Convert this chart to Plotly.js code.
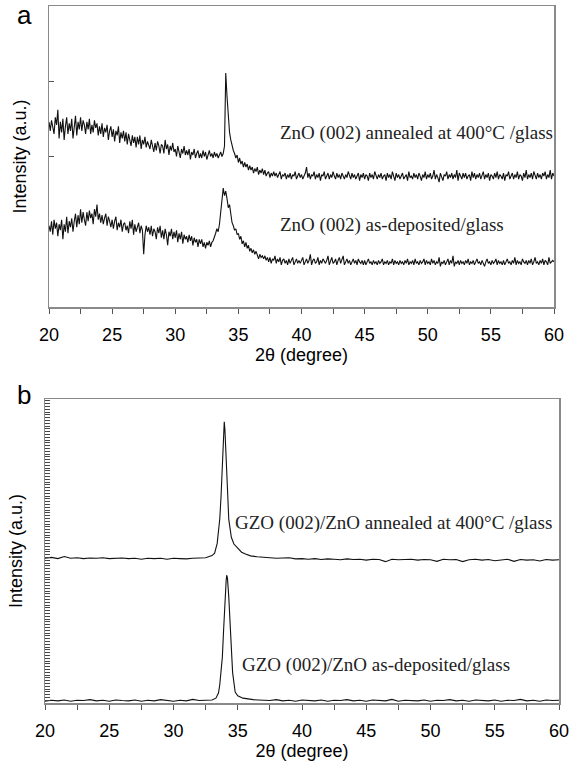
<!DOCTYPE html>
<html><head><meta charset="utf-8">
<script src="https://cdn.plot.ly/plotly-3.0.1.min.js"></script>
<style>html,body{margin:0;padding:0;background:#fff}</style>
</head><body><div id="chart" style="width:573px;height:769px"></div>
<script>
// ---------- Panel a : ZnO on glass (2theta grid, 0.1 degree) ----------
const twoThetaA = [
20.0,20.1,20.2,20.3,20.4,20.5,20.6,20.7,20.8,20.9,
21.0,21.1,21.2,21.3,21.4,21.5,21.6,21.7,21.8,21.9,
22.0,22.1,22.2,22.3,22.4,22.5,22.6,22.7,22.8,22.9,
23.0,23.1,23.2,23.3,23.4,23.5,23.6,23.7,23.8,23.9,
24.0,24.1,24.2,24.3,24.4,24.5,24.6,24.7,24.8,24.9,
25.0,25.1,25.2,25.3,25.4,25.5,25.6,25.7,25.8,25.9,
26.0,26.1,26.2,26.3,26.4,26.5,26.6,26.7,26.8,26.9,
27.0,27.1,27.2,27.3,27.4,27.5,27.6,27.7,27.8,27.9,
28.0,28.1,28.2,28.3,28.4,28.5,28.6,28.7,28.8,28.9,
29.0,29.1,29.2,29.3,29.4,29.5,29.6,29.7,29.8,29.9,
30.0,30.1,30.2,30.3,30.4,30.5,30.6,30.7,30.8,30.9,
31.0,31.1,31.2,31.3,31.4,31.5,31.6,31.7,31.8,31.9,
32.0,32.1,32.2,32.3,32.4,32.5,32.6,32.7,32.8,32.9,
33.0,33.1,33.2,33.3,33.4,33.5,33.6,33.7,33.8,33.9,
34.0,34.1,34.2,34.3,34.4,34.5,34.6,34.7,34.8,34.9,
35.0,35.1,35.2,35.3,35.4,35.5,35.6,35.7,35.8,35.9,
36.0,36.1,36.2,36.3,36.4,36.5,36.6,36.7,36.8,36.9,
37.0,37.1,37.2,37.3,37.4,37.5,37.6,37.7,37.8,37.9,
38.0,38.1,38.2,38.3,38.4,38.5,38.6,38.7,38.8,38.9,
39.0,39.1,39.2,39.3,39.4,39.5,39.6,39.7,39.8,39.9,
40.0,40.1,40.2,40.3,40.4,40.5,40.6,40.7,40.8,40.9,
41.0,41.1,41.2,41.3,41.4,41.5,41.6,41.7,41.8,41.9,
42.0,42.1,42.2,42.3,42.4,42.5,42.6,42.7,42.8,42.9,
43.0,43.1,43.2,43.3,43.4,43.5,43.6,43.7,43.8,43.9,
44.0,44.1,44.2,44.3,44.4,44.5,44.6,44.7,44.8,44.9,
45.0,45.1,45.2,45.3,45.4,45.5,45.6,45.7,45.8,45.9,
46.0,46.1,46.2,46.3,46.4,46.5,46.6,46.7,46.8,46.9,
47.0,47.1,47.2,47.3,47.4,47.5,47.6,47.7,47.8,47.9,
48.0,48.1,48.2,48.3,48.4,48.5,48.6,48.7,48.8,48.9,
49.0,49.1,49.2,49.3,49.4,49.5,49.6,49.7,49.8,49.9,
50.0,50.1,50.2,50.3,50.4,50.5,50.6,50.7,50.8,50.9,
51.0,51.1,51.2,51.3,51.4,51.5,51.6,51.7,51.8,51.9,
52.0,52.1,52.2,52.3,52.4,52.5,52.6,52.7,52.8,52.9,
53.0,53.1,53.2,53.3,53.4,53.5,53.6,53.7,53.8,53.9,
54.0,54.1,54.2,54.3,54.4,54.5,54.6,54.7,54.8,54.9,
55.0,55.1,55.2,55.3,55.4,55.5,55.6,55.7,55.8,55.9,
56.0,56.1,56.2,56.3,56.4,56.5,56.6,56.7,56.8,56.9,
57.0,57.1,57.2,57.3,57.4,57.5,57.6,57.7,57.8,57.9,
58.0,58.1,58.2,58.3,58.4,58.5,58.6,58.7,58.8,58.9,
59.0,59.1,59.2,59.3,59.4,59.5,59.6,59.7,59.8,59.9,
60.0];

const znoAnnealed = [
61.5,58.5,62.0,59.0,57.5,63.0,60.5,65.5,56.0,61.5,
58.0,62.5,55.5,60.0,63.0,57.5,61.0,58.5,62.5,56.0,
60.5,63.5,57.0,61.5,59.0,63.0,58.5,62.0,60.5,57.5,
61.5,59.0,62.5,57.5,60.5,58.0,62.0,59.5,61.0,57.0,
60.0,57.5,61.0,56.5,59.5,58.0,60.5,55.5,58.5,60.0,
56.5,59.0,55.0,58.5,57.0,60.0,54.5,58.0,56.0,58.5,
55.0,58.0,54.0,57.5,55.5,53.5,57.0,54.5,56.5,53.0,
56.5,54.0,57.0,52.5,55.5,54.0,56.5,53.0,55.0,54.0,
52.5,55.5,53.0,51.5,54.5,52.0,55.0,53.5,51.0,54.0,
53.5,51.0,55.5,52.5,54.0,50.5,53.5,52.0,54.5,51.5,
52.5,50.0,53.5,51.5,49.5,52.5,51.0,53.5,50.5,52.0,
50.5,52.5,49.0,51.5,50.5,52.5,49.5,51.0,52.0,49.5,
51.0,49.5,52.0,50.0,51.5,49.0,50.5,52.0,50.0,51.0,
49.5,51.5,50.0,51.0,49.5,50.5,51.5,50.0,51.0,53.5,
77.7,70.0,62.5,58.0,55.5,53.5,52.0,51.0,49.5,50.5,
48.0,49.5,47.5,48.5,46.5,48.0,46.5,47.5,45.5,47.0,
45.5,46.5,44.5,46.0,45.0,46.5,44.0,45.5,44.5,46.0,
44.0,45.5,43.5,44.5,45.0,43.0,44.5,43.5,45.0,43.5,
44.5,43.0,44.0,45.0,42.5,44.0,43.5,44.5,42.5,44.0,
43.0,44.5,42.5,44.0,43.5,45.0,42.5,43.5,44.5,43.0,
44.0,42.5,43.5,44.5,46.5,43.0,44.5,42.5,44.0,43.5,
45.0,42.5,44.0,43.0,44.5,42.0,44.0,43.5,45.0,42.5,
43.5,44.5,42.5,44.0,43.0,45.0,43.5,42.5,44.5,43.0,
44.0,42.5,44.5,43.5,42.5,44.0,43.0,45.0,43.5,42.5,
44.5,43.0,44.0,42.5,43.5,44.5,42.0,44.0,43.0,44.5,
42.5,44.0,43.5,42.0,44.5,43.0,44.0,42.5,45.0,43.5,
42.5,44.0,43.0,44.5,42.5,43.5,44.0,42.0,44.5,43.0,
44.0,42.5,45.0,43.5,42.0,44.5,43.0,44.0,42.5,43.5,
44.5,42.5,43.5,44.0,42.0,45.0,43.0,43.5,42.5,44.5,
43.0,44.0,42.5,44.5,43.5,42.0,44.0,43.0,45.0,42.5,
44.0,43.0,44.5,42.5,43.5,45.5,42.5,44.0,43.0,41.5,
44.5,43.0,42.0,44.0,43.5,45.0,42.5,44.0,43.0,44.5,
42.5,44.0,43.0,45.5,42.0,44.5,43.5,42.5,44.5,43.0,
44.5,42.5,43.5,44.0,42.0,45.0,43.0,44.5,42.5,44.0,
43.0,44.5,42.5,43.5,45.0,42.5,44.0,43.0,44.5,42.0,
44.0,43.5,42.5,44.5,43.0,45.0,42.5,44.0,43.5,42.5,
44.5,42.0,44.0,43.5,45.0,42.5,43.5,44.5,42.5,44.0,
43.0,45.0,42.5,44.0,43.5,42.0,44.5,43.0,45.5,42.5,
44.0,43.0,44.5,42.5,45.0,43.5,42.5,44.5,43.0,44.0,
42.5,44.5,43.5,45.0,42.5,44.0,43.0,45.5,42.5,44.5,
43.5];

const znoAsDeposited = [
27.0,25.0,28.5,24.0,29.0,26.0,28.0,23.5,27.5,25.5,
29.0,22.5,27.5,25.0,30.0,24.5,28.5,26.5,29.5,25.0,
28.5,31.0,26.5,30.5,27.5,32.5,28.0,31.5,29.0,27.0,
31.5,28.5,32.0,29.5,31.0,27.5,32.5,30.0,34.0,29.0,
31.0,28.0,30.5,27.5,29.5,31.0,27.0,30.0,28.5,26.5,
29.0,26.0,28.5,30.0,25.5,28.0,26.5,29.0,25.0,27.5,
28.0,25.5,27.0,24.5,28.5,26.0,29.0,24.0,27.5,25.0,
26.5,28.0,24.5,27.0,25.5,17.5,24.0,27.0,25.0,26.5,
24.0,27.0,23.5,26.0,25.0,22.5,26.5,24.5,27.0,23.0,
25.5,22.5,26.0,24.0,20.5,25.0,23.5,26.0,22.5,25.0,
23.0,25.5,21.5,24.5,22.5,25.0,21.0,24.0,22.5,23.5,
21.5,24.0,22.0,23.5,20.5,23.0,21.5,22.5,20.0,22.5,
21.0,22.5,20.0,21.5,19.5,21.5,20.5,22.0,20.0,21.5,
22.0,23.0,24.5,26.0,25.0,27.5,31.0,35.5,39.5,37.0,
38.5,36.0,33.0,34.0,30.5,28.0,27.0,25.5,26.0,24.0,
24.5,22.5,23.5,21.0,22.0,20.0,21.5,19.5,20.5,18.5,
19.5,18.0,19.0,17.5,18.5,17.0,16.0,17.5,16.5,17.0,
16.0,17.0,15.5,16.5,15.0,16.5,14.5,16.0,15.5,17.0,
14.5,16.0,15.0,16.5,14.0,15.5,16.0,14.5,15.5,14.0,
16.0,14.5,15.5,16.5,14.0,15.0,16.0,14.5,15.5,14.5,
15.5,16.5,14.0,15.0,16.0,14.5,15.5,17.5,14.0,15.5,
16.0,14.5,15.0,16.5,14.0,15.5,14.5,16.0,15.0,14.5,
15.5,17.0,14.0,15.5,16.5,14.5,15.0,16.0,14.0,15.5,
16.5,14.5,15.5,17.0,14.0,15.0,16.0,14.5,15.5,14.0,
15.0,16.0,14.5,15.5,14.0,16.0,15.0,14.5,15.5,14.0,
15.5,14.0,15.0,16.0,14.5,15.0,14.0,15.5,14.5,15.0,
14.0,15.5,14.5,15.0,16.0,14.0,15.0,14.5,15.5,14.0,
15.0,14.5,16.0,14.0,15.5,14.5,15.0,14.0,15.5,14.5,
15.0,14.0,15.5,14.5,16.0,14.0,15.0,14.5,15.5,14.0,
16.0,14.5,15.0,14.0,15.5,14.5,15.0,16.0,14.0,15.5,
14.5,15.0,14.0,16.0,14.5,15.5,14.0,15.0,14.5,16.5,
13.5,15.0,14.5,15.5,14.0,15.0,16.0,14.0,15.5,14.5,
17.0,13.5,15.0,14.5,15.5,14.0,15.5,14.5,15.0,14.0,
15.5,14.5,16.0,14.0,15.0,14.5,15.5,14.0,15.0,16.0,
14.5,15.0,14.0,15.5,14.5,13.5,15.0,16.0,14.5,15.0,
14.0,15.5,14.5,15.0,16.0,14.0,15.5,14.5,15.0,14.0,
15.5,14.0,15.0,16.0,14.5,15.0,14.0,15.5,14.5,16.5,
14.0,15.5,14.5,15.0,14.0,16.0,15.0,14.5,15.5,14.0,
15.5,14.5,16.0,14.0,15.0,16.5,14.5,15.0,14.0,15.5,
14.5,16.0,14.0,15.5,15.0,14.0,16.5,14.5,15.0,15.5,
15.0];

// ---------- Panel b : GZO / ZnO on glass ----------
const twoThetaGzoAnnealed = [
20,20.5,21,21.5,22,22.5,23,23.5,24,24.5,25,25.5,26,26.5,27,27.5,28,28.5,29,29.5,30,30.5,31,31.5,32,32.5,
33.0,33.2,33.4,33.5,33.6,33.7,33.8,33.9,33.95,34.0,34.1,34.2,34.3,34.4,34.5,34.7,35.0,35.3,35.6,36.0,36.5,37.0,
37.5,38,38.5,39,39.5,40,40.5,41,41.5,42,42.5,43,43.5,44,44.5,45,45.5,46,46.5,47,47.5,48,48.5,49,49.5,
50,50.5,51,51.5,52,52.5,53,53.5,54,54.5,55,55.5,56,56.5,57,57.5,58,58.5,59,59.5,60];
const gzoAnnealed = [
47.6,47.9,47.5,48.2,47.6,47.8,47.5,47.7,47.6,47.8,47.5,47.6,47.7,47.5,47.6,47.3,47.6,47.5,47.6,47.3,47.6,47.5,47.4,47.6,47.7,47.8,
48.5,49.3,52.5,55.9,60.5,68.0,78.0,89.0,92.5,90.0,82.0,70.5,60.5,56.9,54.5,52.3,50.8,49.6,49.0,48.4,48.1,47.9,
47.8,47.6,47.7,47.8,47.4,47.5,47.3,47.5,47.2,47.4,47.3,47.1,47.4,47.2,47.3,47.0,47.3,47.2,46.5,47.3,
47.1,47.2,47.3,47.0,47.2,47.1,46.6,47.3,47.1,47.2,46.5,47.1,47.3,47.0,47.2,46.8,47.1,47.3,46.6,47.2,
47.0,47.1,46.7,47.2,47.0,47.1];

const twoThetaGzoAsDep = [
20,20.5,21,21.5,22,22.5,23,23.5,24,24.5,25,25.5,26,26.5,27,27.5,28,28.5,29,29.5,30,30.5,31,31.5,32,32.5,
33.0,33.3,33.5,33.6,33.7,33.8,33.9,34.0,34.1,34.15,34.2,34.3,34.4,34.5,34.6,34.8,35.0,35.4,35.8,36.2,36.6,37.0,
37.5,38,38.5,39,39.5,40,40.5,41,41.5,42,42.5,43,43.5,44,44.5,45,45.5,46,46.5,47,47.5,48,48.5,49,49.5,
50,50.5,51,51.5,52,52.5,53,53.5,54,54.5,55,55.5,56,56.5,57,57.5,58,58.5,59,59.5,60];
const gzoAsDeposited = [
0.6,0.9,0.7,1.0,0.6,0.9,0.8,1.1,0.7,0.9,0.6,1.0,0.8,0.7,1.0,0.6,0.9,0.7,1.1,0.8,0.6,0.9,0.7,1.2,0.8,0.9,
1.0,1.6,3.3,6.0,10.0,15.0,24.0,33.5,40.5,42.1,41.0,35.0,26.5,17.0,10.0,3.6,2.4,1.6,1.3,1.1,1.0,0.9,
0.8,1.1,0.7,0.9,0.6,1.0,0.8,0.7,1.0,0.6,0.9,0.8,1.1,0.7,0.9,0.6,1.0,0.8,0.7,1.2,
0.6,0.9,0.8,0.7,1.0,0.6,0.9,0.8,1.1,0.7,0.9,0.6,1.0,0.8,0.7,1.0,0.6,0.9,0.8,1.2,
0.7,0.9,0.6,1.0,0.8,0.9];

const xTickVals = [20,25,30,35,40,45,50,55,60];
const yTicksA = [50,75];
const labelA1 = 'ZnO (002) annealed at 400°C /glass';
const labelA2 = 'ZnO (002) as-deposited/glass';
const labelB1 = 'GZO (002)/ZnO annealed at 400°C /glass';
const labelB2 = 'GZO (002)/ZnO as-deposited/glass';
const xTitle = '2θ (degree)';
const yTitle = 'Intensity (a.u.)';

const W = 573, H = 769;
const sans = 'Liberation Sans, Arial, sans-serif';
const serif = 'Liberation Serif, Times New Roman, serif';
const frame = '#8a8a8a';

function line(x, y, xa, ya) {
  return {x: x, y: y, xaxis: xa, yaxis: ya, type: 'scatter', mode: 'lines',
          line: {color: '#111', width: 1.1}, hoverinfo: 'skip', showlegend: false};
}
const data = [
  line(twoThetaA, znoAnnealed, 'x', 'y'),
  line(twoThetaA, znoAsDeposited, 'x', 'y'),
  line(twoThetaGzoAnnealed, gzoAnnealed, 'x2', 'y2'),
  line(twoThetaGzoAsDep, gzoAsDeposited, 'x2', 'y2')
];

function xAxis(domain, anchor) {
  return {domain: domain, anchor: anchor, range: [20, 60], tickvals: xTickVals,
    ticks: 'outside', ticklen: 5, tickwidth: 1, tickcolor: '#555',
    minor: {dtick: 2.5, ticks: 'outside', ticklen: 5, tickwidth: 1, tickcolor: '#555'},
    showline: true, mirror: true, linecolor: frame, linewidth: 1.5,
    showgrid: false, zeroline: false, ticklabelstandoff: 6,
    tickfont: {family: sans, size: 18, color: '#000'},
    title: {text: xTitle, font: {family: sans, size: 18, color: '#000'}, standoff: 3},
    automargin: false};
}
const layout = {
  width: W, height: H, margin: {l: 0, r: 0, t: 0, b: 0},
  paper_bgcolor: '#fff', plot_bgcolor: '#fff', showlegend: false,
  xaxis: xAxis([49/W, 554/W], 'y'),
  yaxis: {domain: [(H-307)/H, (H-6)/H], anchor: 'x', range: [0, 100],
    tickvals: yTicksA, ticks: 'inside', ticklen: 5, tickcolor: '#555', showticklabels: false,
    showline: true, mirror: true, linecolor: frame, linewidth: 1.5,
    showgrid: false, zeroline: false, automargin: false,
    title: {text: yTitle, font: {family: sans, size: 18, color: '#000'}, standoff: 16}},
  xaxis2: xAxis([45/W, 559/W], 'y2'),
  yaxis2: {domain: [(H-703)/H, (H-399)/H], anchor: 'x2', range: [0, 100],
    dtick: 0.92, tick0: 0, ticks: 'inside', ticklen: 5, tickcolor: '#444', tickwidth: 1, showticklabels: false,
    showline: true, mirror: true, linecolor: frame, linewidth: 1.5,
    showgrid: false, zeroline: false, automargin: false,
    title: {text: yTitle, font: {family: sans, size: 18, color: '#000'}, standoff: 16}},
  annotations: [
    {text: labelA1, xref: 'x', yref: 'y', x: 38.1, y: 57.8, xanchor: 'left', yanchor: 'middle', showarrow: false,
     font: {family: serif, size: 19, color: '#222'}},
    {text: labelA2, xref: 'x', yref: 'y', x: 38.1, y: 27.2, xanchor: 'left', yanchor: 'middle', showarrow: false,
     font: {family: serif, size: 19, color: '#222'}},
    {text: labelB1, xref: 'x2', yref: 'y2', x: 34.6, y: 59.2, xanchor: 'left', yanchor: 'middle', showarrow: false,
     font: {family: serif, size: 19, color: '#222'}},
    {text: labelB2, xref: 'x2', yref: 'y2', x: 35.15, y: 12.5, xanchor: 'left', yanchor: 'middle', showarrow: false,
     font: {family: serif, size: 19, color: '#222'}},
    {text: 'a', xref: 'paper', yref: 'paper', x: 24/W, y: 1 - 15/H, xanchor: 'center', yanchor: 'middle', showarrow: false,
     font: {family: sans, size: 26, color: '#000'}},
    {text: 'b', xref: 'paper', yref: 'paper', x: 24/W, y: 1 - 395/H, xanchor: 'center', yanchor: 'middle', showarrow: false,
     font: {family: sans, size: 26, color: '#000'}}
  ]
};
Plotly.newPlot('chart', data, layout, {displayModeBar: false, staticPlot: true});
</script>
</body></html>
